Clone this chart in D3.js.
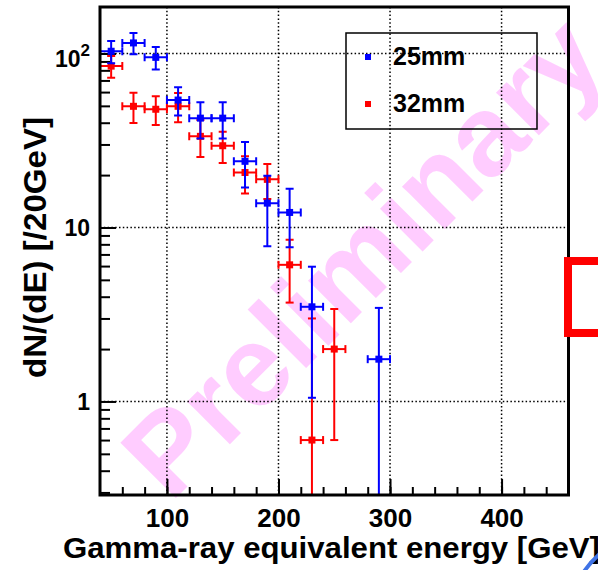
<!DOCTYPE html>
<html lang="en">
  <head>
    <meta charset="UTF-8" />
    <title>gamma-ray energy spectrum</title>
    <style>
      body { margin: 0; background: #fff; }
      text { font-family: "Liberation Sans", Arial, sans-serif; font-weight: bold; }
    </style>
  </head>
  <body>
    <svg id="svg" width="598" height="570"></svg>

    <script src="https://d3js.org/d3.v7.min.js"></script>
    <script>
      // data (bin centres in GeV, counts per 20 GeV)
      const energy25 = [50, 70, 90, 110, 130, 150, 170, 190, 210, 230, 290];
      const counts25 = [103, 115, 95, 54, 42.5, 42.5, 24, 13.8, 12.2, 3.5, 1.75];
      const err25 = [15, 16, 14, 10, 10, 10, 7, 6, 4.5, 2.45, 1.7];

      const energy32 = [50, 70, 90, 110, 130, 150, 170, 190, 210, 230, 250];
      const counts32 = [84.6, 49.7, 47.8, 49.7, 33.4, 29.5, 20.7, 18.9, 6.1, 0.6, 2.0];
      const err32 = [12, 9.8, 9, 9.5, 8, 6, 5, 4.3, 2.4, 2.4, 1.4];

      const binHalf = 10;
      const xMajor = [100, 200, 300, 400];
      const xMinor = d3.range(60, 460, 20);
      const yMajor = [1, 10, 100];
      const seriesNames = ["25mm", "32mm"];
      const seriesColors = ["#0000ff", "#ff0000"];

      const fLeft = 100, fRight = 568.5, fTop = 7, fBottom = 495;

      const x = d3.scaleLinear().domain([40, 460]).range([fLeft, fRight]);
      const y = d3.scaleLog().domain([0.29, 185]).range([fBottom, fTop]);

      const svg = d3.select("#svg");

      // watermark, behind everything
      svg.append("text")
        .attr("transform", "translate(390,284) rotate(-45)")
        .attr("text-anchor", "middle")
        .attr("font-size", 114)
        .attr("fill", "#ffccff")
        .text("Preliminary");

      svg.append("clipPath").attr("id", "frame")
        .append("rect")
        .attr("x", fLeft).attr("y", fTop)
        .attr("width", fRight - fLeft).attr("height", fBottom - fTop);

      // dotted grid
      const grid = svg.append("g")
        .attr("stroke", "#000")
        .attr("stroke-width", 1.5)
        .attr("stroke-dasharray", "1.5 2.3");
      grid.selectAll(".gx").data(xMajor).enter().append("line")
        .attr("x1", (d) => x(d)).attr("x2", (d) => x(d))
        .attr("y1", fTop).attr("y2", fBottom);
      grid.selectAll(".gy").data(yMajor).enter().append("line")
        .attr("x1", fLeft).attr("x2", fRight)
        .attr("y1", (d) => y(d)).attr("y2", (d) => y(d));

      // ticks (inward)
      svg.append("g")
        .attr("transform", `translate(0,${fBottom})`)
        .call(d3.axisBottom(x).tickValues(xMinor).tickSize(-8).tickSizeOuter(0).tickFormat(""));
      const xAxis = svg.append("g")
        .attr("transform", `translate(0,${fBottom})`)
        .call(d3.axisBottom(x).tickValues(xMajor).tickSize(-16).tickSizeOuter(0).tickFormat(d3.format("d")));
      xAxis.selectAll("text")
        .attr("y", 32).attr("dy", null)
        .attr("font-size", 26)
        .attr("fill", "#000");
      xAxis.attr("font-family", null).attr("font-size", null);

      const yMinor = [];
      [0.1, 1, 10, 100].forEach((dec) => {
        for (let k = 2; k <= 9; k++) {
          const v = k * dec;
          if (v > 0.29 && v < 185) yMinor.push(v);
        }
      });
      svg.append("g")
        .attr("transform", `translate(${fLeft},0)`)
        .call(d3.axisLeft(y).tickValues(yMinor).tickSize(-10).tickSizeOuter(0).tickFormat(""));
      svg.append("g")
        .attr("transform", `translate(${fLeft},0)`)
        .call(d3.axisLeft(y).tickValues(yMajor).tickSize(-16).tickSizeOuter(0).tickFormat(""));
      svg.selectAll(".domain").remove();
      svg.selectAll(".tick line").attr("stroke", "#000").attr("stroke-width", 2);

      // y tick labels
      svg.selectAll(".ylab").data(yMajor).enter().append("text")
        .attr("x", 90)
        .attr("y", (d) => y(d) + (d === 100 ? 14 : 8.5))
        .attr("text-anchor", "end")
        .attr("font-size", 23)
        .each(function (d) {
          const t = d3.select(this);
          if (d === 100) {
            t.append("tspan").text("10");
            t.append("tspan").attr("dy", -11).attr("font-size", 17).text("2");
          } else {
            t.text(d);
          }
        });

      // data: error bars and markers, blue drawn last
      const plot = svg.append("g").attr("clip-path", "url(#frame)");
      const series = [
        { e: energy32, c: counts32, s: err32, col: seriesColors[1] },
        { e: energy25, c: counts25, s: err25, col: seriesColors[0] },
      ];
      series.forEach((ser) => {
        const g = plot.append("g").attr("stroke", ser.col).attr("fill", ser.col).attr("stroke-width", 2);
        ser.e.forEach((e, i) => {
          const v = ser.c[i], s = ser.s[i];
          const yTop = y(v + s);
          const lowOk = v - s > y.domain()[0];
          const yBot = lowOk ? y(v - s) : fBottom + 2;
          const cx = x(e), cy = y(v);
          g.append("line").attr("x1", cx).attr("x2", cx).attr("y1", yTop).attr("y2", yBot);
          g.append("line").attr("x1", cx - 4).attr("x2", cx + 4).attr("y1", yTop).attr("y2", yTop);
          if (lowOk) g.append("line").attr("x1", cx - 4).attr("x2", cx + 4).attr("y1", yBot).attr("y2", yBot);
          const xl = x(e - binHalf), xr = x(e + binHalf);
          g.append("line").attr("x1", xl).attr("x2", xr).attr("y1", cy).attr("y2", cy);
          g.append("line").attr("x1", xl).attr("x2", xl).attr("y1", cy - 4).attr("y2", cy + 4);
          g.append("line").attr("x1", xr).attr("x2", xr).attr("y1", cy - 4).attr("y2", cy + 4);
          g.append("rect").attr("stroke", "none")
            .attr("x", cx - 3.5).attr("y", cy - 3.5).attr("width", 7).attr("height", 7);
        });
      });

      // frame
      svg.append("rect")
        .attr("x", fLeft).attr("y", fTop)
        .attr("width", fRight - fLeft).attr("height", fBottom - fTop)
        .attr("fill", "none").attr("stroke", "#000").attr("stroke-width", 3);

      // axis titles
      svg.append("text")
        .attr("x", 63).attr("y", 558)
        .attr("font-size", 29)
        .attr("textLength", 537).attr("lengthAdjust", "spacingAndGlyphs")
        .text("Gamma-ray equivalent energy [GeV]");
      svg.append("text")
        .attr("transform", "translate(46,378) rotate(-90)")
        .attr("font-size", 32)
        .attr("textLength", 261).attr("lengthAdjust", "spacingAndGlyphs")
        .text("dN/(dE) [/20GeV]");

      // legend
      const legend = svg.append("g");
      legend.append("rect")
        .attr("x", 346).attr("y", 33).attr("width", 191).attr("height", 96)
        .attr("fill", "none").attr("stroke", "#000").attr("stroke-width", 1.5);
      seriesNames.forEach((name, i) => {
        const ly = 57 + i * 47;
        legend.append("rect")
          .attr("x", 365).attr("y", ly - 3).attr("width", 6).attr("height", 6)
          .attr("fill", seriesColors[i]);
        legend.append("text")
          .attr("x", 393).attr("y", ly + 8)
          .attr("font-size", 25)
          .text(name);
      });

      // slide decorations at the right edge
      svg.append("rect")
        .attr("x", 568).attr("y", 261).attr("width", 60).attr("height", 72)
        .attr("fill", "none").attr("stroke", "#ff0000").attr("stroke-width", 8);
      svg.append("path")
        .attr("d", "M583,573 Q591,561 602,552")
        .attr("fill", "none").attr("stroke", "#3f73e6").attr("stroke-width", 4);
    </script>
  </body>
</html>
